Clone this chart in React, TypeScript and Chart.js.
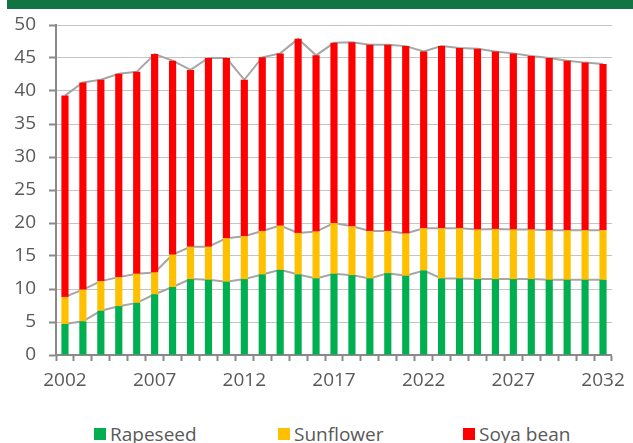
import React, { useEffect, useRef } from "react";
import { Chart, registerables } from "chart.js";

Chart.register(...registerables);

const years = [
  "2002", "2003", "2004", "2005", "2006", "2007", "2008", "2009", "2010", "2011",
  "2012", "2013", "2014", "2015", "2016", "2017", "2018", "2019", "2020", "2021",
  "2022", "2023", "2024", "2025", "2026", "2027", "2028", "2029", "2030", "2031", "2032",
];
const shownYears = ["2002", "2007", "2012", "2017", "2022", "2027", "2032"];
const yTicks = [0, 5, 10, 15, 20, 25, 30, 35, 40, 45, 50];

const seriesNames = ["Rapeseed", "Sunflower", "Soya bean"];
const seriesColors = ["#00B050", "#FFC000", "#FF0000"];

const rapeseed = [
  4.7, 5.1, 6.7, 7.4, 7.9, 9.2, 10.3, 11.5, 11.4, 11.1,
  11.5, 12.2, 12.9, 12.2, 11.6, 12.3, 12.1, 11.6, 12.4, 12.0,
  12.8, 11.6, 11.6, 11.5, 11.5, 11.5, 11.5, 11.4, 11.4, 11.4, 11.4,
];
const sunflower = [
  4.1, 4.8, 4.5, 4.4, 4.4, 3.3, 4.9, 4.9, 5.0, 6.6,
  6.5, 6.6, 6.7, 6.3, 7.1, 7.7, 7.4, 7.2, 6.4, 6.4,
  6.4, 7.6, 7.6, 7.5, 7.6, 7.5, 7.5, 7.5, 7.5, 7.5, 7.5,
];
const soyaBean = [
  30.5, 31.4, 30.5, 30.8, 30.6, 33.1, 29.4, 26.8, 28.6, 27.3,
  23.7, 26.3, 26.1, 29.4, 26.7, 27.3, 27.9, 28.2, 28.2, 28.4,
  26.8, 27.6, 27.3, 27.4, 26.9, 26.7, 26.3, 26.1, 25.7, 25.4, 25.2,
];

const seriesData = [rapeseed, sunflower, soyaBean];

const TEXT = "#595959";
const AXIS = "#898989";
const GRID = "#C4C4C4";
const SERIES_LINE = "#A6A6A6";
const CANVAS_W = 633;
const CANVAS_H = 405;
const PLOT_BOTTOM = 355;
const FONT = "'Open Sans', 'DejaVu Sans', sans-serif";

export default function App() {
  const ref = useRef<HTMLCanvasElement | null>(null);

  useEffect(() => {
    if (!ref.current) return;
    const lineSets = seriesData.map((d, i) => ({
      type: "line" as const,
      label: "line" + i,
      data: d,
      stack: "lines",
      borderColor: SERIES_LINE,
      borderWidth: 2,
      pointRadius: 0,
      fill: false,
      tension: 0,
      order: 2,
    }));
    const barSets = seriesData.map((d, i) => ({
      type: "bar" as const,
      label: seriesNames[i],
      data: d,
      stack: "bars",
      backgroundColor: seriesColors[i],
      borderWidth: 0,
      barPercentage: 0.4,
      categoryPercentage: 1.0,
      order: 1,
    }));
    const chart = new Chart(ref.current, {
      type: "bar",
      data: { labels: years, datasets: [...lineSets, ...barSets] as any },
      options: {
        responsive: false,
        animation: false,
        devicePixelRatio: 1,
        layout: { padding: { top: 25, right: 16, left: 0, bottom: 0 } },
        plugins: {
          legend: { display: false },
          tooltip: { enabled: false },
        },
        scales: {
          x: {
            stacked: true,
            offset: true,
            grid: {
              display: true,
              drawOnChartArea: false,
              drawTicks: true,
              tickLength: 6,
              tickWidth: 2,
              tickColor: AXIS,
              offset: true,
            },
            border: { display: true, color: AXIS, width: 2 },
            ticks: {
              autoSkip: false,
              maxRotation: 0,
              padding: 8,
              color: TEXT,
              font: { family: FONT, size: 19 },
              callback: (_v: any, index: number) =>
                shownYears.includes(years[index]) ? years[index] : "",
            },
            afterFit: (scale: any) => {
              scale.height = CANVAS_H - PLOT_BOTTOM;
            },
          },
          y: {
            stacked: true,
            min: 0,
            max: 50,
            afterBuildTicks: (scale: any) => {
              scale.ticks = yTicks.map((v) => ({ value: v }));
            },
            grid: {
              color: GRID,
              lineWidth: 1,
              drawTicks: true,
              tickLength: 7,
              tickWidth: 2,
              tickColor: AXIS,
            },
            border: { display: true, color: AXIS, width: 2 },
            ticks: {
              padding: 13,
              color: TEXT,
              font: { family: FONT, size: 19 },
            },
            afterFit: (scale: any) => {
              scale.width = 56;
            },
          },
        },
      },
    });
    return () => chart.destroy();
  }, []);

  const legendX = [94, 278, 463];

  return (
    <div
      style={{
        position: "absolute",
        left: 0,
        top: 0,
        width: 633,
        height: 443,
        overflow: "hidden",
        background: "#fff",
      }}
    >
      <div
        style={{
          position: "absolute",
          left: 7,
          top: 0,
          width: 626,
          height: 9,
          background: "#107443",
        }}
      />
      <canvas
        ref={ref}
        width={CANVAS_W}
        height={CANVAS_H}
        style={{ position: "absolute", left: 0, top: 0, width: CANVAS_W, height: CANVAS_H }}
      />
      {seriesNames.map((name, i) => (
        <div key={name} style={{ position: "absolute", left: legendX[i], top: 424, height: 20 }}>
          <div
            style={{
              position: "absolute",
              left: 0,
              top: 4,
              width: 12,
              height: 12,
              background: seriesColors[i],
            }}
          />
          <div
            style={{
              position: "absolute",
              left: 16,
              top: 0,
              whiteSpace: "nowrap",
              fontFamily: FONT,
              fontSize: 19,
              lineHeight: "20px",
              color: TEXT,
            }}
          >
            {name}
          </div>
        </div>
      ))}
    </div>
  );
}
